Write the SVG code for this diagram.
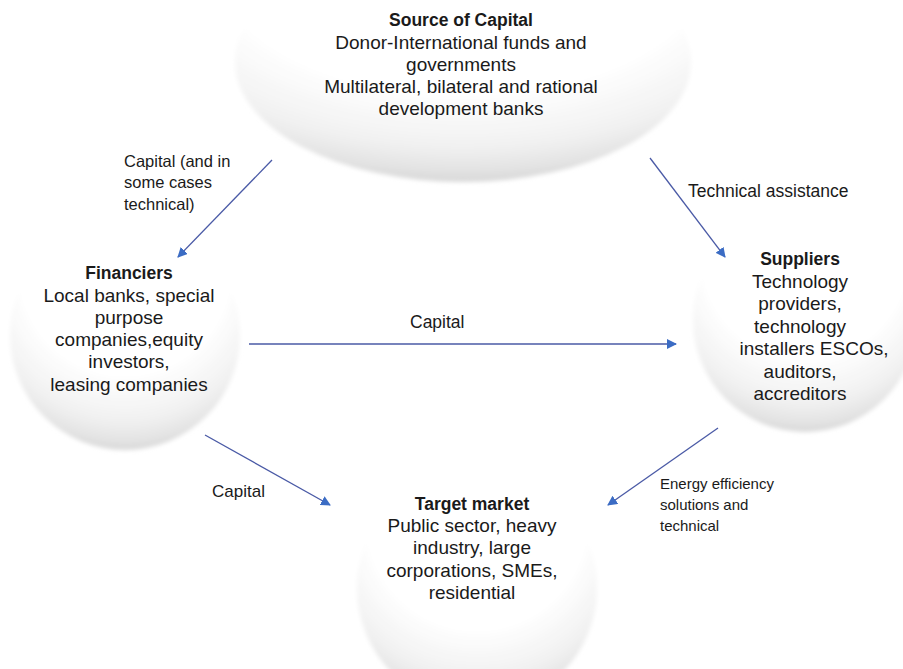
<svg xmlns="http://www.w3.org/2000/svg" width="903" height="669" viewBox="0 0 903 669">
  <defs>
    <radialGradient id="sphere" cx="50%" cy="24%" r="76%" fx="50%" fy="18%">
      <stop offset="0" stop-color="#ffffff"/>
      <stop offset="0.6" stop-color="#ffffff"/>
      <stop offset="0.84" stop-color="#f1f1f1"/>
      <stop offset="0.95" stop-color="#e3e3e3"/>
      <stop offset="1" stop-color="#d9d9d9"/>
    </radialGradient>
    <radialGradient id="dome" cx="50%" cy="12%" r="88%" fx="50%" fy="8%">
      <stop offset="0" stop-color="#ffffff"/>
      <stop offset="0.6" stop-color="#ffffff"/>
      <stop offset="0.84" stop-color="#f1f1f1"/>
      <stop offset="0.95" stop-color="#e2e2e2"/>
      <stop offset="1" stop-color="#d8d8d8"/>
    </radialGradient>
    <filter id="soft" x="-10%" y="-10%" width="120%" height="120%">
      <feGaussianBlur stdDeviation="2"/>
    </filter>
    <marker id="arrow" viewBox="0 0 10 10" refX="9" refY="5" markerWidth="10" markerHeight="10" markerUnits="userSpaceOnUse" orient="auto">
      <path d="M0,0 L10,5 L0,10 z" fill="#3b6cc4"/>
    </marker>
    <style>
      .shape { fill: url(#sphere); filter: url(#soft); }
      .title { font-family: "Liberation Sans", Arial, sans-serif; font-size: 17.5px; font-weight: bold; fill: #1a1a1a; text-anchor: middle; }
      .body { font-family: "Liberation Sans", Arial, sans-serif; font-size: 19px; fill: #1a1a1a; text-anchor: middle; }
      .lbl { font-family: "Liberation Sans", Arial, sans-serif; fill: #1a1a1a; }
      .edge { stroke: #4a5aa6; stroke-width: 1.3; fill: none; marker-end: url(#arrow); }
    </style>
  </defs>

  <rect width="903" height="669" fill="#ffffff"/>

  <!-- Source of Capital -->
  <g id="source">
    <ellipse cx="463" cy="62" rx="228" ry="120" fill="url(#dome)" filter="url(#soft)"/>
    <text class="title" x="461" y="26">Source of Capital</text>
    <text class="body" x="461" y="49">Donor-International funds and</text>
    <text class="body" x="461" y="71">governments</text>
    <text class="body" x="461" y="93">Multilateral, bilateral and rational</text>
    <text class="body" x="461" y="115">development banks</text>
  </g>

  <!-- Financiers -->
  <g id="financiers">
    <circle class="shape" cx="125" cy="335" r="115"/>
    <text class="title" x="129" y="279">Financiers</text>
    <text class="body" x="129" y="302">Local banks, special</text>
    <text class="body" x="129" y="324">purpose</text>
    <text class="body" x="129" y="346">companies,equity</text>
    <text class="body" x="129" y="368">investors,</text>
    <text class="body" x="129" y="391">leasing companies</text>
  </g>

  <!-- Suppliers -->
  <g id="suppliers">
    <circle class="shape" cx="805" cy="320" r="112"/>
    <text class="title" x="800" y="265">Suppliers</text>
    <text class="body" x="800" y="288">Technology</text>
    <text class="body" x="800" y="310">providers,</text>
    <text class="body" x="800" y="333">technology</text>
    <text class="body" x="814" y="355">installers ESCOs,</text>
    <text class="body" x="800" y="378">auditors,</text>
    <text class="body" x="800" y="400">accreditors</text>
  </g>

  <!-- Target market -->
  <g id="target">
    <circle class="shape" cx="477" cy="588" r="120"/>
    <text class="title" x="472" y="510">Target market</text>
    <text class="body" x="472" y="532">Public sector, heavy</text>
    <text class="body" x="472" y="554">industry, large</text>
    <text class="body" x="472" y="577">corporations, SMEs,</text>
    <text class="body" x="472" y="599">residential</text>
  </g>

  <!-- Flows between actors -->
  <g id="connectors">
    <line class="edge" x1="272" y1="160" x2="178" y2="257"/>
    <line class="edge" x1="650" y1="158" x2="725" y2="257"/>
    <line class="edge" x1="249" y1="344" x2="676" y2="344"/>
    <line class="edge" x1="205" y1="435" x2="330" y2="505"/>
    <line class="edge" x1="718" y1="428" x2="608" y2="505"/>

    <text class="lbl" font-size="16.5" x="124" y="167">Capital (and in</text>
    <text class="lbl" font-size="16.5" x="124" y="188">some cases</text>
    <text class="lbl" font-size="16.5" x="124" y="210">technical)</text>

    <text class="lbl" font-size="17.5" x="688" y="197">Technical assistance</text>

    <text class="lbl" font-size="17.5" x="410" y="328">Capital</text>

    <text class="lbl" font-size="17" x="212" y="497">Capital</text>

    <text class="lbl" font-size="15" x="660" y="489">Energy efficiency</text>
    <text class="lbl" font-size="15" x="660" y="510">solutions and</text>
    <text class="lbl" font-size="15" x="660" y="531">technical</text>
  </g>
</svg>
